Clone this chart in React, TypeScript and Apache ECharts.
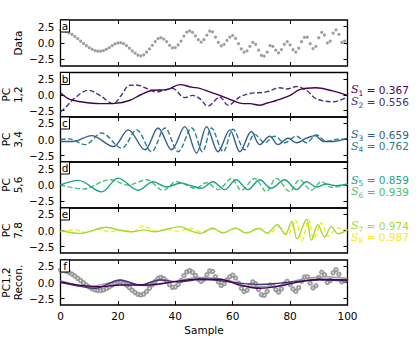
import React, { useEffect, useRef } from 'react';
import * as echarts from 'echarts';

// ---- data ----
const sampleValues = [
  1.95, 1.9, 1.75, 1.55, 1.3, 1.0, 0.65, 0.3, -0.05, -0.4,
  -0.7, -0.95, -1.15, -1.25, -1.25, -1.15, -0.95, -0.7, -0.4, -0.15,
  0.0, 0.05, -0.1, -0.4, -0.8, -1.2, -1.55, -1.85, -1.95, -1.8,
  -1.4, -0.9, -0.35, 0.2, 0.65, 0.8, 0.6, 0.2, -0.35, -0.75,
  -0.7, -0.3, 0.3, 1.05, 1.65, 1.85, 1.6, 1.1, 0.5, 0.15,
  0.5, 1.2, 1.8, 1.7, 0.9, 0.1, -0.45, -0.2, 0.4, 0.9,
  1.15, 0.7, -0.1, -0.9, -1.4, -1.2, -0.5, 0.1, -0.2, -1.1,
  -1.9, -2.0, -1.4, -0.4, -0.5, -1.1, -1.5, -1.0, -0.2, 0.2,
  -0.3, -1.0, -1.4, -0.8, 0.2, 0.85, 0.9, -0.1, -0.85, -0.5,
  0.8, 1.6, 1.2, 0.0, 0.3, 1.5, 2.0, 1.3, 0.1, 0.3,
];

const pc1 = [[0,0.3],[3,-0.7],[7,-1.1],[13.7,-1.4],[19,-1.35],[24,-0.9],[28,0.0],[32,0.7],[37,0.8],[41.6,1.6],[45.6,1.2],[48.5,1.0],[52,0.45],[55.5,-0.1],[60,-0.9],[63.6,-1.4],[66,-1.4],[69.4,-1.65],[72,-1.3],[75.2,-0.9],[80,-0.1],[83.3,0.8],[89,1.1],[94.8,0.6],[100,-0.1]];
const pc2 = [[0,-2.7],[2,-1.9],[5,-0.5],[9.7,0.7],[13.7,-0.1],[18.4,-1.4],[21,-0.2],[24.2,1.5],[27,1.5],[30,1.0],[33.5,0.45],[36,0.7],[39,1.0],[43.3,-0.45],[46,-0.1],[48.5,-0.6],[51.4,-1.8],[55.5,-0.35],[58.4,-1.65],[62.5,-0.35],[66,0.2],[71.7,0.45],[76.4,1.1],[79,0.9],[82.2,1.3],[85.7,0.7],[89,-0.6],[94.9,-1.1],[100,-0.35]];
const pc3 = [[0,-0.3],[4.5,-0.3],[10.8,0.6],[18.4,-1.1],[23.6,1.5],[29.4,-1.6],[34,1.8],[38.7,-1.6],[43.3,2.0],[47.4,-2.1],[50.9,2.0],[54.9,-1.9],[59,1.5],[62.5,-1.9],[66.5,1.25],[69.4,-0.8],[72.9,0.5],[75.8,-0.8],[79.3,0.2],[82.2,-0.5],[85.7,0.2],[88.7,0.6],[91.6,-0.3],[95.1,-0.3],[100,0.2]];
const pc4 = [[0,0.0],[3,0.1],[8.5,-0.8],[14.3,1.0],[21.3,-1.35],[26.5,1.5],[31.7,-1.9],[36.4,1.8],[41,-1.9],[45.7,1.8],[49.5,-1.9],[52.6,1.8],[56.7,-1.9],[60.1,1.6],[64.2,-1.6],[67.7,0.8],[71.2,-0.5],[74.6,0.5],[78.1,-0.5],[82.2,0.5],[85.7,-0.5],[89.2,0.7],[92.6,-0.3],[96.1,0.0],[100,0.1]];
const pc5 = [[0,0],[6.2,0.7],[14.3,-1.05],[20.1,1.05],[27.1,-0.8],[32.3,0.5],[37,-0.3],[42,0.3],[45.5,-0.1],[49,-0.5],[53.1,0.5],[57.2,-0.7],[61.2,0.8],[65.3,-0.7],[69.4,0.8],[73.4,-0.5],[78.1,0.8],[82.2,-0.7],[85.7,0.5],[89.2,-0.3],[92.6,0.15],[96,-0.1],[100,0.15]];
const pc6 = [[0,0],[8,-0.6],[17.2,0.8],[23.6,0.0],[30,0.8],[35.8,-0.8],[40.4,0.5],[47,-0.5],[50.9,0.35],[54.9,-0.7],[59.6,1.0],[63,-0.8],[67.7,1.0],[71.7,-1.0],[75.2,1.0],[79.9,-1.0],[83.3,0.8],[87.4,-0.8],[90.9,0.5],[94.4,-0.35],[100,0.1]];
const pc7 = [[0,0],[6.8,-0.45],[16,0.5],[21,0],[25,-0.2],[29,0.1],[33,-0.2],[37,0.2],[41.6,0.6],[45,0.0],[49,-0.45],[53,0.4],[56.5,-0.4],[61,0.4],[64.6,-0.4],[69.2,0.3],[72,-0.4],[75.5,0.9],[78.3,-0.6],[80.6,1.4],[82.4,-1.3],[85.7,1.7],[87.4,-1.5],[89.7,0.9],[92,-1.0],[94.4,0.6],[96.7,-0.5],[100,0.1]];
const pc8 = [[0,-0.2],[5,0.1],[9,-0.3],[13,0.2],[17,-0.2],[22,0.1],[25,-0.2],[28.8,0.7],[33,-0.1],[37,0.2],[41,-0.1],[45,0.3],[49,-0.2],[53,0.2],[57,-0.3],[61,0.3],[65,-0.3],[69,0.4],[72.5,-0.5],[76,0.5],[79,-0.7],[81.9,1.6],[84.1,-1.6],[86.5,1.7],[88.2,-1.3],[91,1.2],[93.3,-0.9],[96.7,0.4],[100,0.1]];

const recon1 = [[0,0.1],[6.5,-0.4],[13.9,-0.65],[20.8,-0.4],[30,-0.4],[39.3,0.1],[48.5,0.55],[55.5,0.5],[62.5,-0.4],[69.4,-0.9],[76.4,-0.55],[83.3,0.1],[90.3,0.5],[100,0.4]];
const recon2 = [[0,0.0],[7.6,-0.65],[12,-0.9],[20.8,0.4],[27.7,-0.4],[34.6,0.4],[41,0.1],[48.5,0.45],[55,0.3],[62.5,-0.1],[69.4,-0.3],[76.4,-0.1],[83,0.2],[90.3,0.4],[100,0.25]];
const reconGray = [[0,0.3],[10,-0.6],[20,0.1],[30,-0.5],[40,0.2],[48.5,0.8],[59,0.3],[66,-0.65],[73,-0.65],[83,0.4],[92,0.9],[100,0.65]];

const pcSeries = [pc1, pc2, pc3, pc4, pc5, pc6, pc7, pc8];
const sValues = ['0.367', '0.556', '0.659', '0.762', '0.859', '0.939', '0.974', '0.987'];
const pcColors = ['#440154', '#46327e', '#365c8d', '#277f8e', '#1fa187', '#4ac16d', '#a0da39', '#fde725'];
const yTickValues = [-2.5, 0, 2.5];
const panelLetters = ['a', 'b', 'c', 'd', 'e', 'f'];
const panelNames = ['Data', 'PC\n1,2', 'PC\n3,4', 'PC\n5,6', 'PC\n7,8', 'PC1,2\nRecon.'];
const xLabel = 'Sample';

// ---- layout ----
const LEFT = 60.5;
const RIGHT_EDGE = 347.5;
const panels = [
  { top: 20, height: 46 },
  { top: 72.5, height: 44.5 },
  { top: 117, height: 45 },
  { top: 162, height: 46 },
  { top: 208, height: 45 },
  { top: 260, height: 45 },
];
const FONT = 'DejaVu Sans';

export default function App() {
  const ref = useRef<HTMLDivElement>(null);
  useEffect(() => {
    if (!ref.current) return;
    const chart = echarts.init(ref.current, null, { renderer: 'svg' });
    const grid: any[] = [];
    const xAxis: any[] = [];
    const yAxis: any[] = [];
    const series: any[] = [];
    const graphic: any[] = [];
    const fmt = (v: number) => (v < 0 ? '\u2212' + Math.abs(v).toFixed(1) : v.toFixed(1));

    panels.forEach((p, i) => {
      grid.push({
        left: LEFT, width: RIGHT_EDGE - LEFT, top: p.top, height: p.height,
        show: true, borderColor: '#000', borderWidth: 1.3, backgroundColor: 'transparent',
      });
      const last = i === panels.length - 1;
      const xBase = {
        type: 'value', gridIndex: i, min: 0, max: 100, interval: 20,
        axisLine: { show: false, onZero: false }, splitLine: { show: false },
        axisTick: { show: true, inside: true, length: 4, lineStyle: { color: '#000', width: 1 } },
      };
      xAxis.push({
        ...xBase, position: 'bottom',
        axisLabel: { show: last, color: '#000', fontFamily: FONT, fontSize: 10.5, margin: 5,
          showMinLabel: true, showMaxLabel: true },
      });
      xAxis.push({ ...xBase, position: 'top', axisLabel: { show: false } });
      const yBase = {
        type: 'value', gridIndex: i, min: -3.5, max: 3.5,
        axisLine: { show: false, onZero: false }, splitLine: { show: false },
        axisTick: { show: true, inside: true, length: 4, customValues: yTickValues, lineStyle: { color: '#000', width: 1 } },
      };
      yAxis.push({
        ...yBase, position: 'left',
        axisLabel: { show: true, customValues: yTickValues, formatter: fmt, color: '#000', fontFamily: FONT, fontSize: 10.5, margin: 6 },
      });
      yAxis.push({ ...yBase, position: 'right', axisLabel: { show: false } });

      graphic.push({
        type: 'text', x: 23.5, y: p.top + p.height / 2, rotation: Math.PI / 2,
        style: { text: panelNames[i], font: `10.5px "${FONT}"`, fill: '#000',
          textAlign: 'center', textVerticalAlign: 'bottom', lineHeight: 12 },
      });
      graphic.push({
        type: 'rect', shape: { x: LEFT, y: p.top, width: 9, height: 12 },
        style: { fill: '#fff', stroke: '#000', lineWidth: 1 }, z: 100,
      });
      graphic.push({
        type: 'text', x: LEFT + 4.5, y: p.top + 6,
        style: { text: panelLetters[i], font: `10.5px "${FONT}"`, fill: '#000', textAlign: 'center', textVerticalAlign: 'middle' },
        z: 101,
      });
    });

    const dataPts = sampleValues.map((v, i) => [i, v]);
    series.push({
      type: 'scatter', xAxisIndex: 0, yAxisIndex: 0, data: dataPts, symbol: 'circle', symbolSize: 3.2,
      itemStyle: { color: '#888' }, silent: true,
    });

    for (let k = 0; k < 8; k++) {
      const panel = 1 + Math.floor(k / 2);
      series.push({
        type: 'line', xAxisIndex: panel * 2, yAxisIndex: panel * 2, data: pcSeries[k],
        showSymbol: false, smooth: 0.35, z: k % 2 === 0 ? 3 : 2,
        lineStyle: { color: pcColors[k], width: 1.4, type: k % 2 === 0 ? 'solid' : [5, 2.4] },
      });
      const cy = panels[panel].top + panels[panel].height / 2 + (k % 2 === 0 ? -5.8 : 5.8);
      graphic.push({
        type: 'text', x: 351, y: cy,
        style: {
          text: `{s|S}{b|${k + 1}}{n| = ${sValues[k]}}`,
          textVerticalAlign: 'middle', fill: pcColors[k],
          rich: {
            s: { fontFamily: 'DejaVu Serif', fontStyle: 'italic', fontSize: 11, fill: pcColors[k], color: pcColors[k], lineHeight: 13, verticalAlign: 'bottom' },
            b: { fontFamily: FONT, fontSize: 7.5, fill: pcColors[k], color: pcColors[k], lineHeight: 10, verticalAlign: 'bottom', padding: [0, 0, -2, 0] },
            n: { fontFamily: FONT, fontSize: 10.5, fill: pcColors[k], color: pcColors[k], lineHeight: 13, verticalAlign: 'bottom' },
          },
        },
      });
    }

    series.push({
      type: 'scatter', xAxisIndex: 10, yAxisIndex: 10, data: dataPts, symbol: 'emptyCircle', symbolSize: 3.4,
      itemStyle: { color: '#888', borderColor: '#888', borderWidth: 1 }, silent: true, z: 2,
    });
    series.push({
      type: 'line', xAxisIndex: 10, yAxisIndex: 10, data: reconGray, showSymbol: false, smooth: 0.35, z: 3,
      lineStyle: { color: '#999', width: 1.4 },
    });
    series.push({
      type: 'line', xAxisIndex: 10, yAxisIndex: 10, data: recon2, showSymbol: false, smooth: 0.35, z: 4,
      lineStyle: { color: pcColors[1], width: 1.4 },
    });
    series.push({
      type: 'line', xAxisIndex: 10, yAxisIndex: 10, data: recon1, showSymbol: false, smooth: 0.35, z: 5,
      lineStyle: { color: pcColors[0], width: 1.4 },
    });

    graphic.push({
      type: 'text', x: (LEFT + RIGHT_EDGE) / 2, y: 330,
      style: { text: xLabel, font: `10.5px "${FONT}"`, fill: '#000', textAlign: 'center', textVerticalAlign: 'middle' },
    });

    chart.setOption({
      animation: false,
      backgroundColor: '#fff',
      grid, xAxis, yAxis, series, graphic,
    });
    return () => chart.dispose();
  }, []);
  return <div ref={ref} style={{ width: 416, height: 347, position: 'absolute', left: 0, top: 0 }} />;
}
